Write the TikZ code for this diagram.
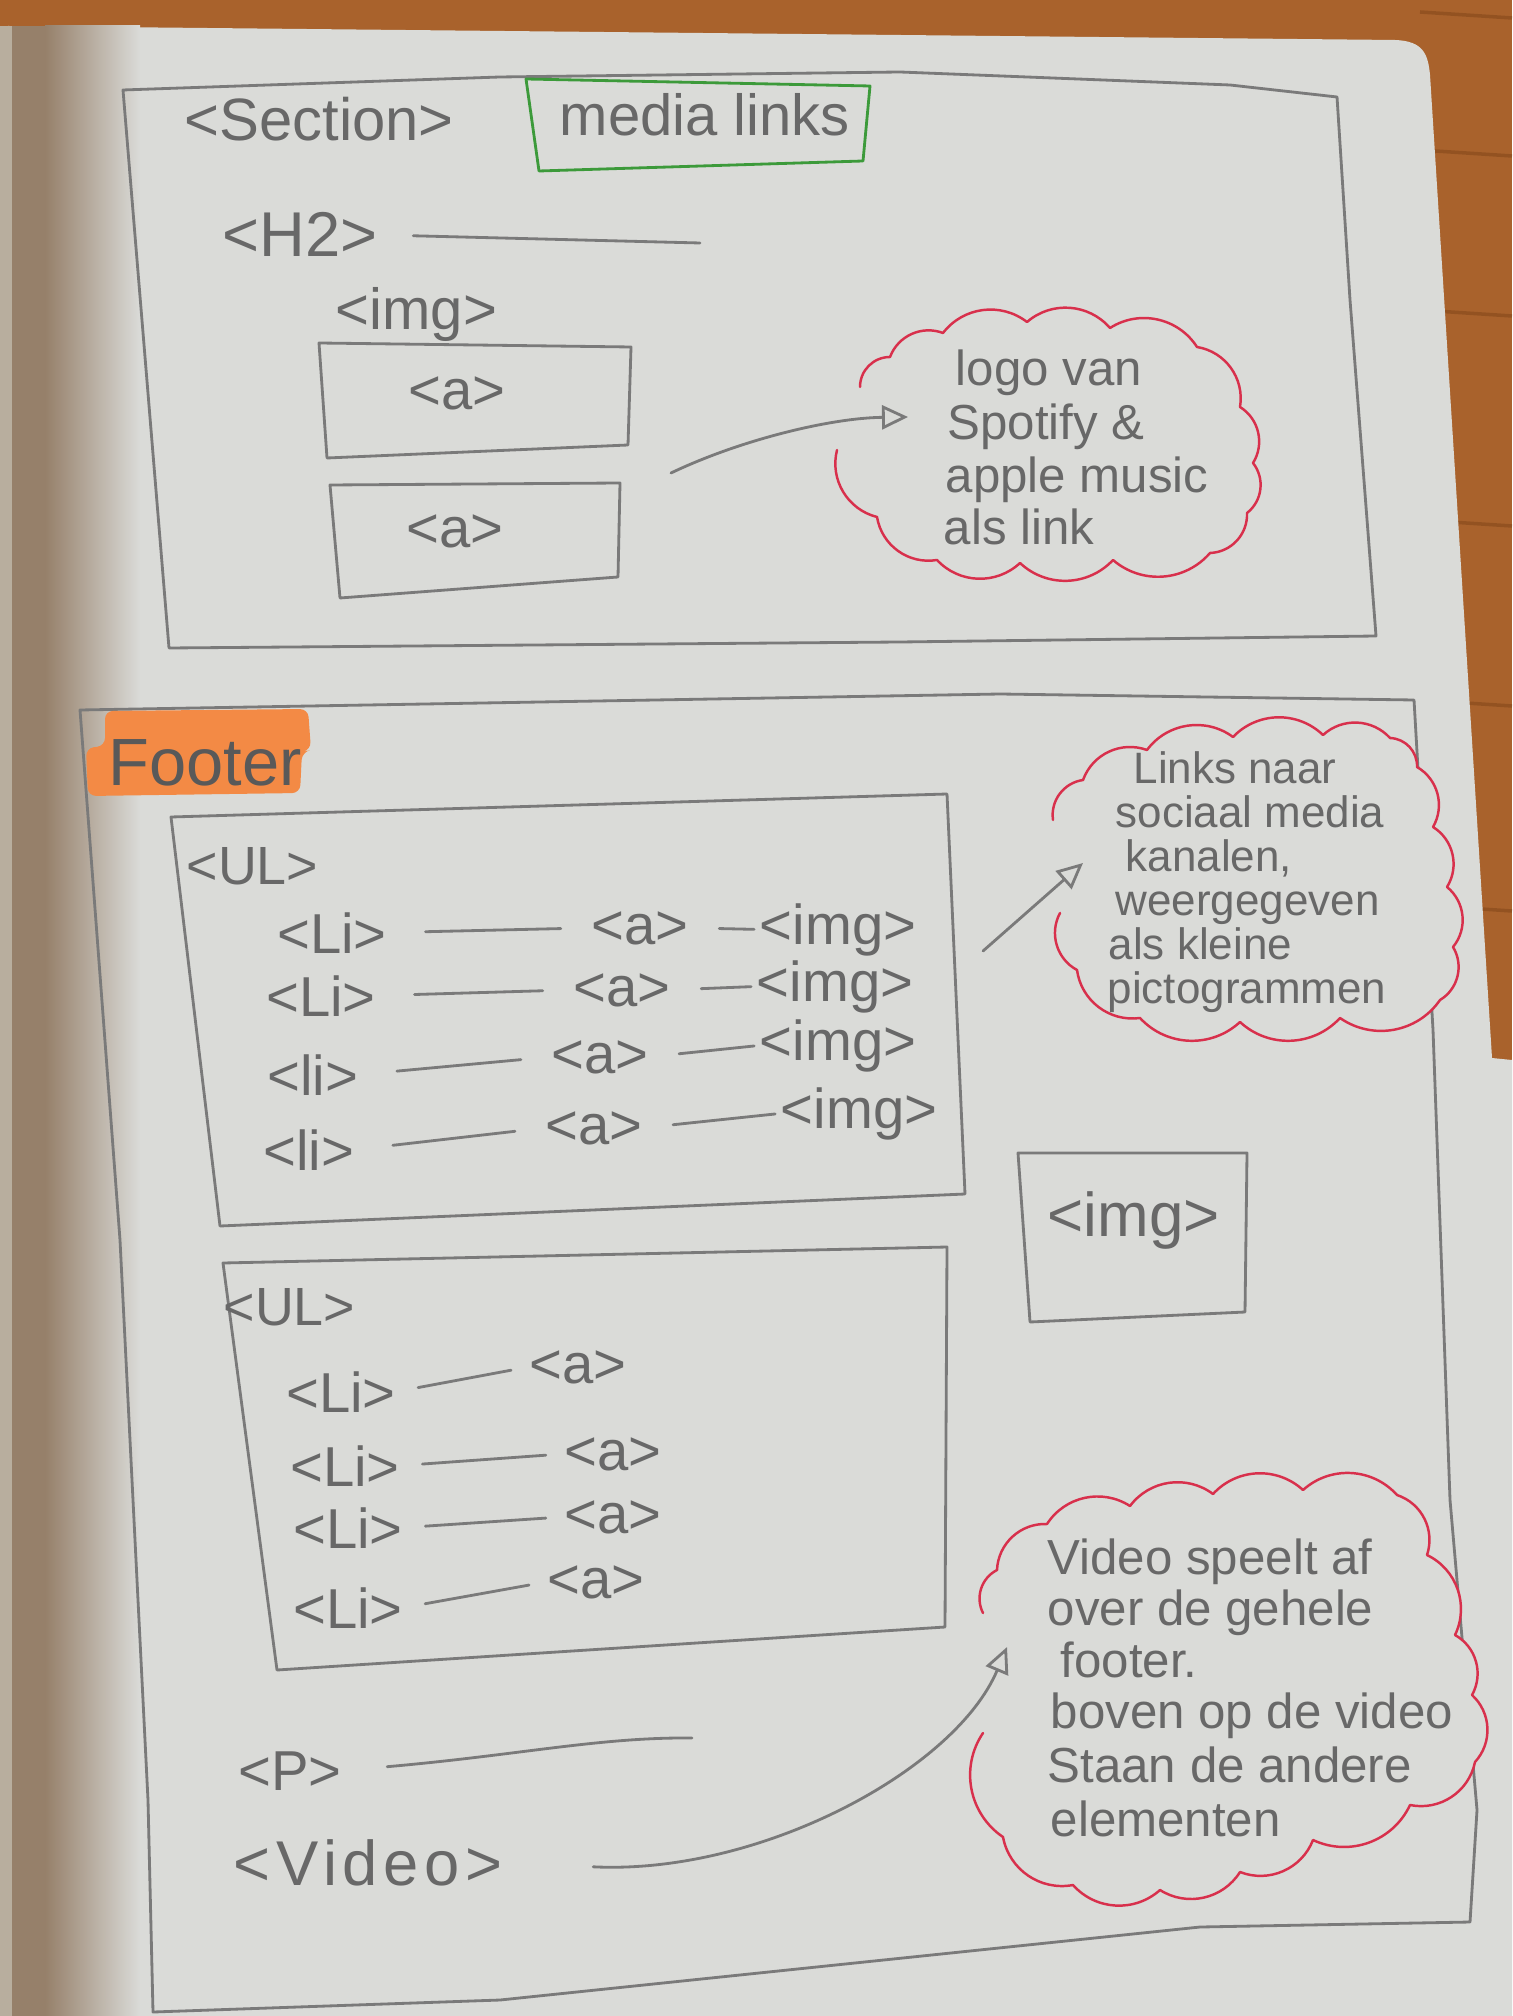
\documentclass[tikz,border=0pt]{standalone}
\usepackage{fontspec}
\setmainfont{Liberation Sans}
\usetikzlibrary{arrows.meta}
\definecolor{wood}{HTML}{A9622C}
\definecolor{woodgrain}{HTML}{7E4418}
\definecolor{paper}{HTML}{DADBD8}
\definecolor{paperedge}{HTML}{B8AE9E}
\definecolor{bindshadow}{HTML}{96806A}
\definecolor{graphite}{HTML}{7A7A7A}
\definecolor{lead}{HTML}{686868}
\definecolor{redpen}{HTML}{D8304C}
\definecolor{greenpen}{HTML}{3C9A3A}
\definecolor{marker}{HTML}{F38A45}
\newcommand\handsize[1]{\fontsize{#1}{#1}\selectfont}

\begin{document}
\begin{tikzpicture}[x=0.01cm, y=-0.01cm,
  pencil/.style={draw=graphite, line width=0.8pt, line cap=round, line join=round},
  cloud/.style={draw=redpen, line width=0.7pt, fill=paper, line cap=round, line join=round},
  puff/.style={bend right=45},
  frame/.style={draw=greenpen, line width=0.8pt, line join=round},
  tag/.style={text=lead, inner sep=0pt, anchor=base, font=\handsize{16}},
  lefttag/.style={tag, anchor=base west},
  note/.style={text=lead, inner sep=0pt, anchor=base west},
  pointer/.style={pencil, -{Triangle[open, length=0.26cm, width=0.24cm]}}
]
\useasboundingbox (0,0) rectangle (1512,2016);

% table top and sketchbook page
\fill[wood] (0,0) rectangle (1512,2016);
\foreach \gy in {12,150,310,520,700,905}
  \draw[woodgrain, line width=1pt, opacity=0.5] (1420,\gy) -- (1512,\gy+6);
\fill[paper] (8,26) -- (1395,40) .. controls (1424,41) and (1428,55) .. (1430,75)
  -- (1492,1058) -- (1512,1060) -- (1512,2016) -- (8,2016) -- cycle;
\fill[paperedge] (0,26) rectangle (12,2016);
\fill[bindshadow] (12,26) rectangle (45,2016);
\fill[left color=bindshadow, right color=paper] (45,26) rectangle (140,2016);

% ---------- section: media links ----------
\draw[pencil] (123,90) -- (500,77) -- (900,72) -- (1230,85) -- (1337,97)
  -- (1350,300) -- (1376,636) -- (900,642) -- (169,648) -- cycle;
\node[lefttag, font=\handsize{17}] (section) at (184,141) {<Section>};
\draw[frame] (526,79) -- (870,86) -- (863,161) -- (539,171) -- cycle;
\node[lefttag, font=\handsize{16.5}] (medialinks) at (559,136) {media links};

\node[lefttag, font=\handsize{18}] (h2) at (222,257) {<H2>};
\coordinate (h2end) at (700,243);
\draw[pencil, shorten <=0.35cm] (h2.east) -- (h2end);

\node[lefttag, font=\handsize{16.5}] (imglabel) at (335,330) {<img>};
\draw[pencil] (319,343) -- (631,347) -- (628,445) -- (327,458) -- cycle;
\node[tag] (spotify) at (457,410) {<a>};
\draw[pencil] (330,485) -- (620,483) -- (618,577) -- (340,598) -- cycle;
\node[tag] (applemusic) at (455,548) {<a>};

% ---------- footer ----------
\draw[pencil] (80,710) -- (1000,694) -- (1414,700) -- (1433,1030) -- (1450,1500)
  -- (1477,1810) -- (1470,1922) -- (1200,1927) -- (500,2000) -- (153,2012)
  -- (148,1800) -- (120,1240) -- cycle;
\fill[marker, rounded corners=0.08cm] (105,711) -- (308,709) -- (311,750) -- (302,752)
  -- (300,793) -- (88,796) -- (86,748) -- (105,746) -- cycle;
\node[lefttag, font=\handsize{19}, text=black!65] (footer) at (108,785) {Footer};

% social media list
\draw[pencil] (171,817) -- (947,794) -- (965,1194) -- (220,1226) -- cycle;
\node[lefttag, font=\handsize{15.3}] (ulsocial) at (186,884) {<UL>};
\node[tag] (sli1) at (332,953) {<Li>};
\node[tag] (sa1) at (640,944) {<a>};
\node[tag] (simg1) at (838,944) {<img>};
\node[tag] (sli2) at (321,1016) {<Li>};
\node[tag] (sa2) at (622,1006) {<a>};
\node[tag] (simg2) at (835,1001) {<img>};
\node[tag] (sli3) at (313,1095) {<li>};
\node[tag] (sa3) at (600,1073) {<a>};
\node[tag] (simg3) at (838,1060) {<img>};
\node[tag] (sli4) at (309,1170) {<li>};
\node[tag] (sa4) at (594,1144) {<a>};
\node[tag] (simg4) at (859,1128) {<img>};
\foreach \r in {1,...,4} {
  \draw[pencil, shorten <=0.38cm, shorten >=0.3cm] (sli\r.east) -- (sa\r.west);
  \draw[pencil, shorten <=0.3cm, shorten >=0.05cm] (sa\r.east) -- (simg\r.west);
}

% logo image
\draw[pencil] (1018,1153) -- (1247,1153) -- (1245,1312) -- (1030,1322) -- cycle;
\node[lefttag, font=\handsize{17.6}] (logo) at (1047,1236) {<img>};

% plain link list
\draw[pencil] (223,1263) -- (947,1247) -- (945,1627) -- (277,1670) -- cycle;
\node[lefttag, font=\handsize{15.3}] (ullinks) at (223,1325) {<UL>};
\node[tag] (lli1) at (341,1412) {<Li>};
\node[tag] (la1) at (578,1383) {<a>};
\node[tag] (lli2) at (345,1486) {<Li>};
\node[tag] (la2) at (613,1470) {<a>};
\node[tag] (lli3) at (348,1548) {<Li>};
\node[tag] (la3) at (613,1533) {<a>};
\node[tag] (lli4) at (348,1628) {<Li>};
\node[tag] (la4) at (596,1598) {<a>};
\foreach \r in {1,...,4}
  \draw[pencil, shorten <=0.22cm, shorten >=0.18cm] (lli\r.east) -- (la\r.west);

% paragraph and video
\node[tag] (para) at (290,1790) {<P>};
\coordinate (paraend) at (692,1738);
\draw[pencil, shorten <=0.45cm] (para.east) .. controls (520,1755) and (600,1737) .. (paraend);
\node[lefttag, font=\handsize{18}\addfontfeatures{LetterSpace=9}] (video) at (233,1885) {<Video>};

% ---------- notes in red clouds ----------
\draw[cloud] (837,450) to[puff] (877,517) to[puff] (937,560) to[puff] (1020,563)
  to[puff] (1113,560) to[puff] (1210,553) to[puff] (1247,513) to[puff] (1253,463)
  to[puff] (1240,407) to[puff] (1197,347) to[puff] (1110,328) to[puff] (1027,322)
  to[puff] (943,333) to[puff] (890,357) to[puff] (860,387);
\node[note, font=\handsize{14}] (n1a) at (955,386) {logo van};
\node[note, font=\handsize{14}] (n1b) at (947,440) {Spotify \&};
\node[note, font=\handsize{14}] (n1c) at (945,493) {apple music};
\node[note, font=\handsize{14}] (n1d) at (943,545) {als link};

\draw[cloud] (1060,913) to[puff] (1077,970) to[puff] (1140,1018) to[puff] (1240,1022)
  to[puff] (1340,1018) to[puff] (1440,1000) to[puff] (1453,947) to[puff] (1447,887)
  to[puff] (1433,827) to[puff] (1417,767) to[puff] (1390,738) to[puff] (1323,735)
  to[puff] (1233,737) to[puff] (1147,750) to[puff] (1083,780) to[puff] (1053,820);
\node[note, font=\handsize{12.5}] (n2a) at (1133,783) {Links naar};
\node[note, font=\handsize{12.5}] (n2b) at (1115,827) {sociaal media};
\node[note, font=\handsize{12.5}] (n2c) at (1125,871) {kanalen,};
\node[note, font=\handsize{12.5}] (n2d) at (1115,915) {weergegeven};
\node[note, font=\handsize{12.5}] (n2e) at (1108,959) {als kleine};
\node[note, font=\handsize{12.5}] (n2f) at (1107,1003) {pictogrammen};

\draw[cloud] (983,1733) to[puff] (1003,1837) to[puff] (1073,1885) to[puff] (1160,1890)
  to[puff] (1240,1872) to[puff] (1313,1840) to[puff] (1410,1805) to[puff] (1475,1762)
  to[puff] (1472,1695) to[puff] (1455,1635) to[puff] (1427,1555) to[puff] (1397,1495)
  to[puff] (1303,1490) to[puff] (1213,1494) to[puff] (1130,1506) to[puff] (1047,1524)
  to[puff] (997,1570) to[puff] (983,1613);
\node[note, font=\handsize{14}] (n3a) at (1047,1574) {Video speelt af};
\node[note, font=\handsize{14}] (n3b) at (1047,1625) {over de gehele};
\node[note, font=\handsize{14}] (n3c) at (1060,1677) {footer.};
\node[note, font=\handsize{14}] (n3d) at (1050,1728) {boven op de video};
\node[note, font=\handsize{14}] (n3e) at (1047,1782) {Staan de andere};
\node[note, font=\handsize{14}] (n3f) at (1050,1836) {elementen};

% ---------- pointers ----------
\coordinate (linkspoint) at (671,473);
\coordinate (n1tip) at (908,417);
\draw[pointer] (linkspoint) .. controls (740,440) and (830,418) .. (n1tip);
\coordinate (socialpoint) at (983,951);
\coordinate (n2tip) at (1083,863);
\draw[pointer] (socialpoint) -- (n2tip);
\coordinate (n3tip) at (1007,1647);
\draw[pointer, shorten <=0.9cm] (video.east) .. controls (760,1875) and (955,1770) .. (n3tip);

\end{tikzpicture}
\end{document}
